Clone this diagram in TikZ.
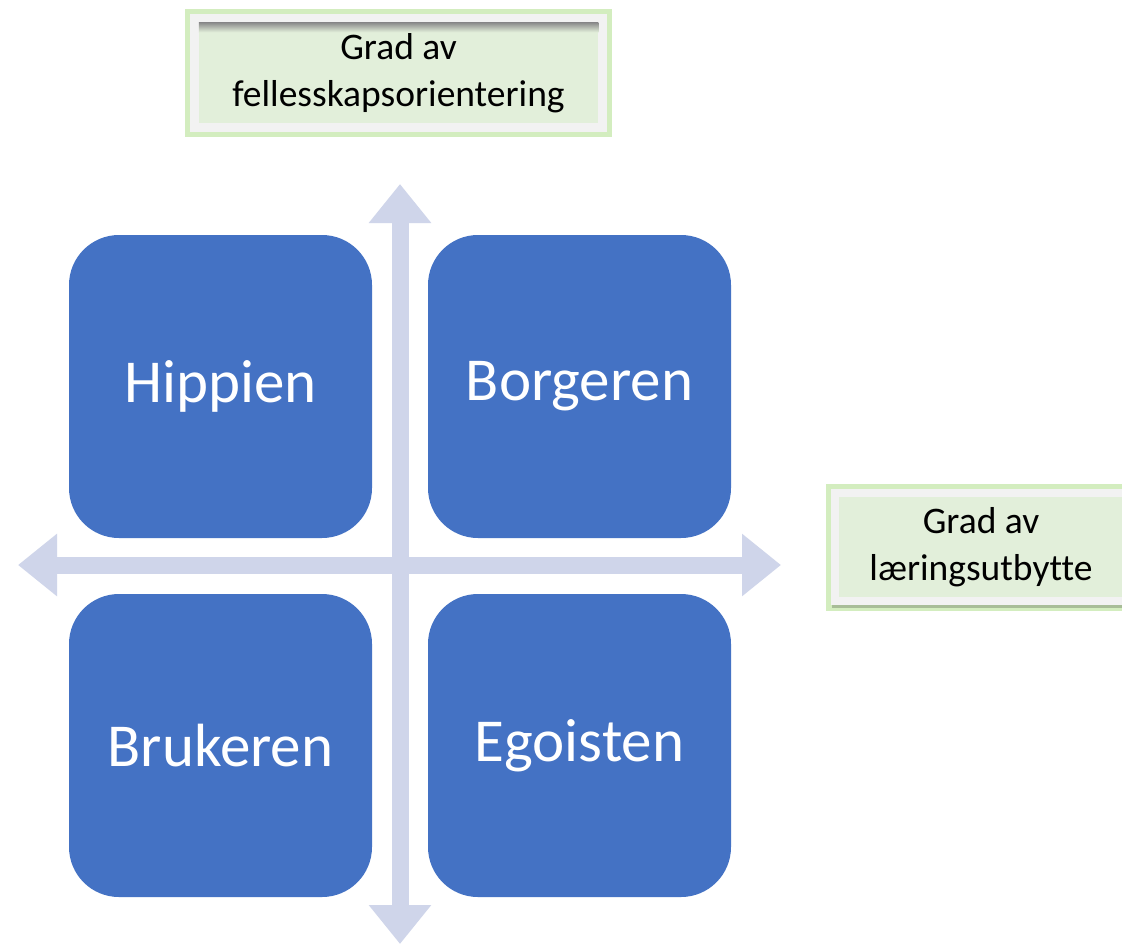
\documentclass[tikz,border=0pt]{standalone}
\usepackage{fontspec}
\setmainfont{Carlito}[Ligatures = NoCommon]
\usetikzlibrary{arrows.meta,shadows}
\definecolor{boxblue}{HTML}{4472C4}
\definecolor{axisgray}{HTML}{CFD5EA}
\definecolor{labelfill}{HTML}{E2EFDA}
\definecolor{labelframe}{HTML}{F2F2F2}
\definecolor{labelglow}{HTML}{A8DC80}
\tikzset{
    quadbox/.style = {fill = boxblue, rounded corners = 50pt, minimum width = 303pt, minimum height = 303pt,
        text = white, font = \fontsize{61}{72}\selectfont, inner sep = 0pt},
    axisline/.style = {axisgray, line width = 17pt, {Triangle[width = 60pt, length = 39pt]}-{Triangle[width = 60pt, length = 39pt]}},
    labelbox/.style = {draw = labelframe, line width = 8.5pt, fill = labelfill, align = center,
        font = \fontsize{37.5}{47}\selectfont, inner sep = 0pt,
        preaction = {draw = labelglow, line width = 19pt, opacity = 0.5}}
}
\begin{document}
\begin{tikzpicture}[x = 1pt, y = -1pt]
        \useasboundingbox (0, 0) rectangle (1122, 946);
        \fill[white] (0, 0) rectangle (1122, 946);
        \coordinate (xleft) at (18, 565);
        \coordinate (xright) at (781, 565);
        \coordinate (ytop) at (400, 184);
        \coordinate (ybot) at (400, 944);
        \draw[axisline] (xleft) -- (xright);
        \draw[axisline] (ytop) -- (ybot);
        \node[quadbox] (hippien) at (220.5, 386.5) {Hippien};
        \node[quadbox] (borgeren) at (579.5, 386.5) {Borgeren};
        \node[quadbox] (brukeren) at (220.5, 745.5) {Brukeren};
        \node[quadbox] (egoisten) at (579.5, 745.5) {Egoisten};
        \node[labelbox, minimum width = 408pt, minimum height = 109pt] (fellesskap) at (398.5, 73)
            {Grad av\\fellesskapsorientering};
        \shade[top color = black!45, bottom color = labelfill, draw = none]
            ([shift = {(8.5, 8.5)}] fellesskap.north west) rectangle ([shift = {(-8.5, 18)}] fellesskap.north east);
        \node[labelbox, minimum width = 292pt, minimum height = 108pt,
            drop shadow = {shadow xshift = -3pt, shadow yshift = -7pt, fill = black, opacity = 0.2}] (laering) at (981, 547)
            {Grad av\\læringsutbytte};
    \end{tikzpicture}
\end{document}
